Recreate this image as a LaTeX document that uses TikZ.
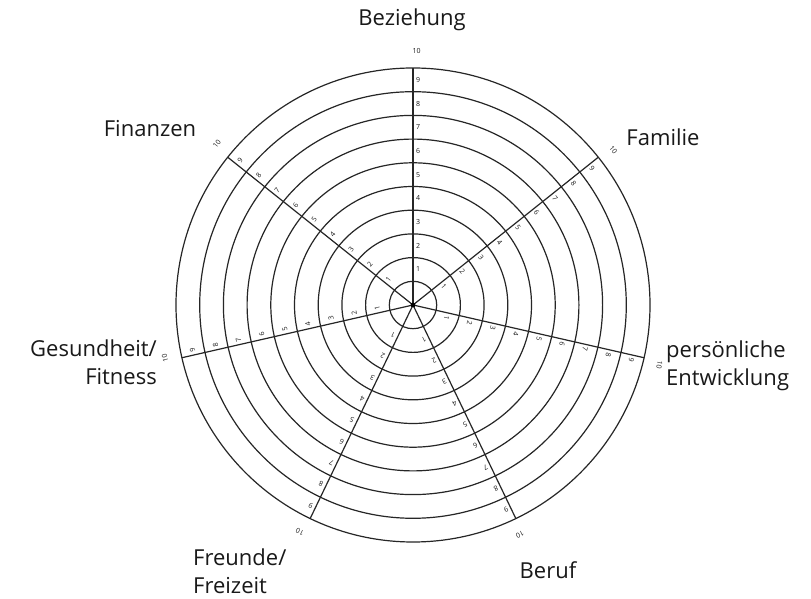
\documentclass[tikz,border=0pt]{standalone}
\usepackage{fontspec}
\setmainfont{Open Sans}
\usetikzlibrary{calc}
\begin{document}
\begin{tikzpicture}[x=1pt,y=1pt,
  ring/.style={line width=1.2pt, draw=black!85},
  num/.style={font=\fontsize{7}{8}\selectfont, inner sep=0pt, text=black!90},
  cat/.style={font=\fontsize{22}{28}\selectfont, inner sep=0pt, text=black!90}]
\useasboundingbox (0,0) rectangle (811,599);
\fill[white] (0,0) rectangle (811,599);
\coordinate (c) at (413,294);
\def\u{23.7}
\foreach \k in {1,...,10} \draw[ring] (c) circle ({\k*\u});
\foreach \a [count=\i] in {90, 38.571, -12.857, -64.286, -115.714, -167.143, 141.429} {
  \coordinate (s\i) at ($(c)+(\a:{10*\u})$);
  \draw[ring] (c) -- (s\i);
  \foreach \k in {1,...,9}
    \node[num, rotate=\a-90] (n\i-\k) at ($(c)+(\a:{(\k+0.5)*\u})+(\a-90:5)$) {\k};
  \node[num, rotate=\a-90] (n\i-10) at ($(c)+(\a:{10.7*\u})+(\a-90:3.5)$) {10};
}
\fill[black] (c) circle (2.4);
\node[cat] (beziehung) at (412,579) {Beziehung};
\node[cat] (finanzen) at (150,470) {Finanzen};
\node[cat] (familie) at (663,462) {Familie};
\node[cat, anchor=east, align=right] (gesundheit) at (157,237) {Gesundheit/\\Fitness};
\node[cat, anchor=west, align=left] (entwicklung) at (666,233) {persönliche\\Entwicklung};
\node[cat, anchor=west, align=left] (freunde) at (193,28) {Freunde/\\Freizeit};
\node[cat] (beruf) at (548,29) {Beruf};
\end{tikzpicture}
\end{document}
